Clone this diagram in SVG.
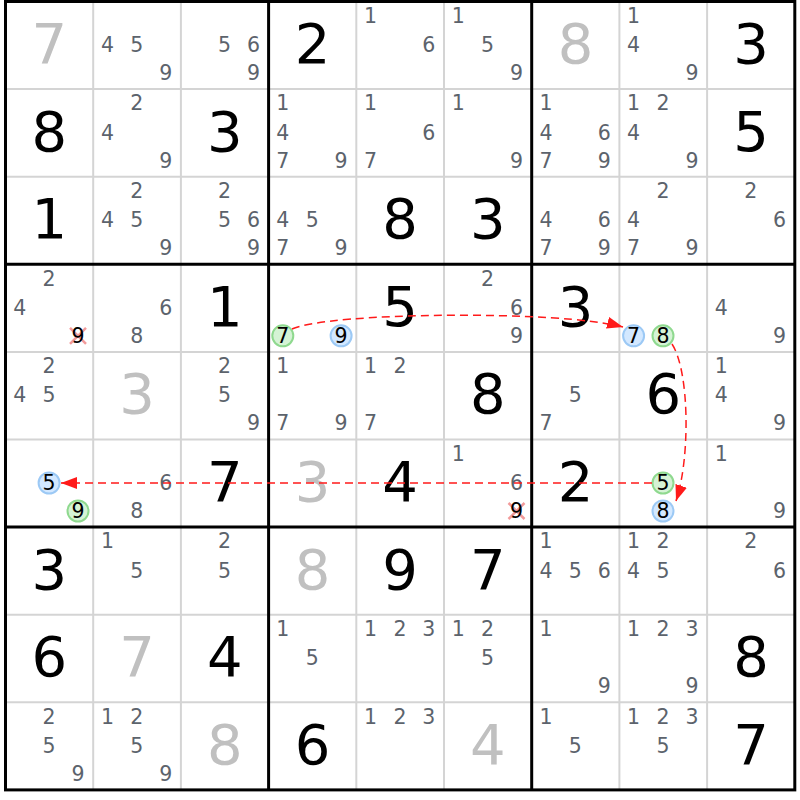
<svg xmlns="http://www.w3.org/2000/svg" width="800" height="800" viewBox="0 0 800 800">
<style>
text{font-family:"DejaVu Sans","Liberation Sans",sans-serif;text-anchor:middle}
.b{font-size:56px;fill:#000}
.g{font-size:56px;fill:#c0c0c0}
.c{font-size:20.5px;fill:#5c636c}
.k{font-size:20.5px;fill:#000}
.thin{stroke:#d4d4d4;stroke-width:2}
.thick{stroke:#000;stroke-width:3}
.cb{fill:#d3e8ff;stroke:#9cc9f5;stroke-width:2}
.cg{fill:#d5f3d5;stroke:#8fd98f;stroke-width:2}
.x{stroke:#f29a9a;stroke-width:2.5}
.arr{fill:none;stroke:#ff1a1a;stroke-width:1.5;stroke-dasharray:8 5}
</style>
<defs>
<marker id="ah" viewBox="0 0 16 12" refX="16" refY="6" markerWidth="16" markerHeight="12" markerUnits="userSpaceOnUse" orient="auto">
<path d="M0,0 L16,6 L0,12 z" fill="#ff1a1a"/>
</marker>
</defs>
<rect x="0" y="0" width="800" height="800" fill="#fff"/>
<g id="grid">
<line class="thin" x1="93.2" y1="1.5" x2="93.2" y2="789.9"/>
<line class="thin" x1="180.9" y1="1.5" x2="180.9" y2="789.9"/>
<line class="thin" x1="356.3" y1="1.5" x2="356.3" y2="789.9"/>
<line class="thin" x1="444" y1="1.5" x2="444" y2="789.9"/>
<line class="thin" x1="619.4" y1="1.5" x2="619.4" y2="789.9"/>
<line class="thin" x1="707.1" y1="1.5" x2="707.1" y2="789.9"/>
<line class="thin" x1="5.5" y1="89.1" x2="794.8" y2="89.1"/>
<line class="thin" x1="5.5" y1="176.7" x2="794.8" y2="176.7"/>
<line class="thin" x1="5.5" y1="351.9" x2="794.8" y2="351.9"/>
<line class="thin" x1="5.5" y1="439.5" x2="794.8" y2="439.5"/>
<line class="thin" x1="5.5" y1="614.7" x2="794.8" y2="614.7"/>
<line class="thin" x1="5.5" y1="702.3" x2="794.8" y2="702.3"/>
<line class="thick" x1="268.6" y1="1.5" x2="268.6" y2="789.9"/>
<line class="thick" x1="531.7" y1="1.5" x2="531.7" y2="789.9"/>
<line class="thick" x1="5.5" y1="264.3" x2="794.8" y2="264.3"/>
<line class="thick" x1="5.5" y1="527.1" x2="794.8" y2="527.1"/>
<rect class="thick" x="5.5" y="1.5" width="789.3" height="788.4" fill="none"/>
</g>
<g id="r0c0"><text class="g" x="49.35" y="63">7</text></g>
<g id="r0c1"><text class="c" x="107.4" y="52">4</text><text class="c" x="136.8" y="52">5</text><text class="c" x="165.7" y="80">9</text></g>
<g id="r0c2"><text class="c" x="224.5" y="52">5</text><text class="c" x="253.4" y="52">6</text><text class="c" x="253.4" y="80">9</text></g>
<g id="r0c3"><text class="b" x="312.45" y="63">2</text></g>
<g id="r0c4"><text class="c" x="370.5" y="22.8">1</text><text class="c" x="428.8" y="52">6</text></g>
<g id="r0c5"><text class="c" x="458.2" y="22.8">1</text><text class="c" x="487.6" y="52">5</text><text class="c" x="516.5" y="80">9</text></g>
<g id="r0c6"><text class="g" x="575.55" y="63">8</text></g>
<g id="r0c7"><text class="c" x="633.6" y="22.8">1</text><text class="c" x="633.6" y="52">4</text><text class="c" x="691.9" y="80">9</text></g>
<g id="r0c8"><text class="b" x="750.95" y="63">3</text></g>
<g id="r1c0"><text class="b" x="49.35" y="150.6">8</text></g>
<g id="r1c1"><text class="c" x="136.8" y="110.4">2</text><text class="c" x="107.4" y="139.6">4</text><text class="c" x="165.7" y="167.6">9</text></g>
<g id="r1c2"><text class="b" x="224.75" y="150.6">3</text></g>
<g id="r1c3"><text class="c" x="282.8" y="110.4">1</text><text class="c" x="282.8" y="139.6">4</text><text class="c" x="282.8" y="167.6">7</text><text class="c" x="341.1" y="167.6">9</text></g>
<g id="r1c4"><text class="c" x="370.5" y="110.4">1</text><text class="c" x="428.8" y="139.6">6</text><text class="c" x="370.5" y="167.6">7</text></g>
<g id="r1c5"><text class="c" x="458.2" y="110.4">1</text><text class="c" x="516.5" y="167.6">9</text></g>
<g id="r1c6"><text class="c" x="545.9" y="110.4">1</text><text class="c" x="545.9" y="139.6">4</text><text class="c" x="604.2" y="139.6">6</text><text class="c" x="545.9" y="167.6">7</text><text class="c" x="604.2" y="167.6">9</text></g>
<g id="r1c7"><text class="c" x="633.6" y="110.4">1</text><text class="c" x="663" y="110.4">2</text><text class="c" x="633.6" y="139.6">4</text><text class="c" x="691.9" y="167.6">9</text></g>
<g id="r1c8"><text class="b" x="750.95" y="150.6">5</text></g>
<g id="r2c0"><text class="b" x="49.35" y="238.2">1</text></g>
<g id="r2c1"><text class="c" x="136.8" y="198">2</text><text class="c" x="107.4" y="227.2">4</text><text class="c" x="136.8" y="227.2">5</text><text class="c" x="165.7" y="255.2">9</text></g>
<g id="r2c2"><text class="c" x="224.5" y="198">2</text><text class="c" x="224.5" y="227.2">5</text><text class="c" x="253.4" y="227.2">6</text><text class="c" x="253.4" y="255.2">9</text></g>
<g id="r2c3"><text class="c" x="282.8" y="227.2">4</text><text class="c" x="312.2" y="227.2">5</text><text class="c" x="282.8" y="255.2">7</text><text class="c" x="341.1" y="255.2">9</text></g>
<g id="r2c4"><text class="b" x="400.15" y="238.2">8</text></g>
<g id="r2c5"><text class="b" x="487.85" y="238.2">3</text></g>
<g id="r2c6"><text class="c" x="545.9" y="227.2">4</text><text class="c" x="604.2" y="227.2">6</text><text class="c" x="545.9" y="255.2">7</text><text class="c" x="604.2" y="255.2">9</text></g>
<g id="r2c7"><text class="c" x="663" y="198">2</text><text class="c" x="633.6" y="227.2">4</text><text class="c" x="633.6" y="255.2">7</text><text class="c" x="691.9" y="255.2">9</text></g>
<g id="r2c8"><text class="c" x="750.7" y="198">2</text><text class="c" x="779.6" y="227.2">6</text></g>
<g id="r3c0"><text class="c" x="49.1" y="285.6">2</text><text class="c" x="19.7" y="314.8">4</text><line class="x" x1="70" y1="327.8" x2="86" y2="343.8"/><line class="x" x1="86" y1="327.8" x2="70" y2="343.8"/><text class="k" x="78" y="343">9</text></g>
<g id="r3c1"><text class="c" x="165.7" y="314.8">6</text><text class="c" x="136.8" y="342.8">8</text></g>
<g id="r3c2"><text class="b" x="224.75" y="325.8">1</text></g>
<g id="r3c3"><circle class="cg" cx="282.8" cy="335.8" r="10.5"/><text class="k" x="282.8" y="343">7</text><circle class="cb" cx="341.1" cy="335.8" r="10.5"/><text class="k" x="341.1" y="343">9</text></g>
<g id="r3c4"><text class="b" x="400.15" y="325.8">5</text></g>
<g id="r3c5"><text class="c" x="487.6" y="285.6">2</text><text class="c" x="516.5" y="314.8">6</text><text class="c" x="516.5" y="342.8">9</text></g>
<g id="r3c6"><text class="b" x="575.55" y="325.8">3</text></g>
<g id="r3c7"><circle class="cb" cx="633.6" cy="335.8" r="10.5"/><text class="k" x="633.6" y="343">7</text><circle class="cg" cx="663" cy="335.8" r="10.5"/><text class="k" x="663" y="343">8</text></g>
<g id="r3c8"><text class="c" x="721.3" y="314.8">4</text><text class="c" x="779.6" y="342.8">9</text></g>
<g id="r4c0"><text class="c" x="49.1" y="373.2">2</text><text class="c" x="19.7" y="402.4">4</text><text class="c" x="49.1" y="402.4">5</text></g>
<g id="r4c1"><text class="g" x="137.05" y="413.4">3</text></g>
<g id="r4c2"><text class="c" x="224.5" y="373.2">2</text><text class="c" x="224.5" y="402.4">5</text><text class="c" x="253.4" y="430.4">9</text></g>
<g id="r4c3"><text class="c" x="282.8" y="373.2">1</text><text class="c" x="282.8" y="430.4">7</text><text class="c" x="341.1" y="430.4">9</text></g>
<g id="r4c4"><text class="c" x="370.5" y="373.2">1</text><text class="c" x="399.9" y="373.2">2</text><text class="c" x="370.5" y="430.4">7</text></g>
<g id="r4c5"><text class="b" x="487.85" y="413.4">8</text></g>
<g id="r4c6"><text class="c" x="575.3" y="402.4">5</text><text class="c" x="545.9" y="430.4">7</text></g>
<g id="r4c7"><text class="b" x="663.25" y="413.4">6</text></g>
<g id="r4c8"><text class="c" x="721.3" y="373.2">1</text><text class="c" x="721.3" y="402.4">4</text><text class="c" x="779.6" y="430.4">9</text></g>
<g id="r5c0"><circle class="cb" cx="49.1" cy="483" r="10.5"/><text class="k" x="49.1" y="490.2">5</text><circle class="cg" cx="78" cy="511" r="10.5"/><text class="k" x="78" y="518.2">9</text></g>
<g id="r5c1"><text class="c" x="165.7" y="490">6</text><text class="c" x="136.8" y="518">8</text></g>
<g id="r5c2"><text class="b" x="224.75" y="501">7</text></g>
<g id="r5c3"><text class="g" x="312.45" y="501">3</text></g>
<g id="r5c4"><text class="b" x="400.15" y="501">4</text></g>
<g id="r5c5"><text class="c" x="458.2" y="460.8">1</text><text class="c" x="516.5" y="490">6</text><line class="x" x1="508.5" y1="503" x2="524.5" y2="519"/><line class="x" x1="524.5" y1="503" x2="508.5" y2="519"/><text class="k" x="516.5" y="518.2">9</text></g>
<g id="r5c6"><text class="b" x="575.55" y="501">2</text></g>
<g id="r5c7"><circle class="cg" cx="663" cy="483" r="10.5"/><text class="k" x="663" y="490.2">5</text><circle class="cb" cx="663" cy="511" r="10.5"/><text class="k" x="663" y="518.2">8</text></g>
<g id="r5c8"><text class="c" x="721.3" y="460.8">1</text><text class="c" x="779.6" y="518">9</text></g>
<g id="r6c0"><text class="b" x="49.35" y="588.6">3</text></g>
<g id="r6c1"><text class="c" x="107.4" y="548.4">1</text><text class="c" x="136.8" y="577.6">5</text></g>
<g id="r6c2"><text class="c" x="224.5" y="548.4">2</text><text class="c" x="224.5" y="577.6">5</text></g>
<g id="r6c3"><text class="g" x="312.45" y="588.6">8</text></g>
<g id="r6c4"><text class="b" x="400.15" y="588.6">9</text></g>
<g id="r6c5"><text class="b" x="487.85" y="588.6">7</text></g>
<g id="r6c6"><text class="c" x="545.9" y="548.4">1</text><text class="c" x="545.9" y="577.6">4</text><text class="c" x="575.3" y="577.6">5</text><text class="c" x="604.2" y="577.6">6</text></g>
<g id="r6c7"><text class="c" x="633.6" y="548.4">1</text><text class="c" x="663" y="548.4">2</text><text class="c" x="633.6" y="577.6">4</text><text class="c" x="663" y="577.6">5</text></g>
<g id="r6c8"><text class="c" x="750.7" y="548.4">2</text><text class="c" x="779.6" y="577.6">6</text></g>
<g id="r7c0"><text class="b" x="49.35" y="676.2">6</text></g>
<g id="r7c1"><text class="g" x="137.05" y="676.2">7</text></g>
<g id="r7c2"><text class="b" x="224.75" y="676.2">4</text></g>
<g id="r7c3"><text class="c" x="282.8" y="636">1</text><text class="c" x="312.2" y="665.2">5</text></g>
<g id="r7c4"><text class="c" x="370.5" y="636">1</text><text class="c" x="399.9" y="636">2</text><text class="c" x="428.8" y="636">3</text></g>
<g id="r7c5"><text class="c" x="458.2" y="636">1</text><text class="c" x="487.6" y="636">2</text><text class="c" x="487.6" y="665.2">5</text></g>
<g id="r7c6"><text class="c" x="545.9" y="636">1</text><text class="c" x="604.2" y="693.2">9</text></g>
<g id="r7c7"><text class="c" x="633.6" y="636">1</text><text class="c" x="663" y="636">2</text><text class="c" x="691.9" y="636">3</text><text class="c" x="691.9" y="693.2">9</text></g>
<g id="r7c8"><text class="b" x="750.95" y="676.2">8</text></g>
<g id="r8c0"><text class="c" x="49.1" y="723.6">2</text><text class="c" x="49.1" y="752.8">5</text><text class="c" x="78" y="780.8">9</text></g>
<g id="r8c1"><text class="c" x="107.4" y="723.6">1</text><text class="c" x="136.8" y="723.6">2</text><text class="c" x="136.8" y="752.8">5</text><text class="c" x="165.7" y="780.8">9</text></g>
<g id="r8c2"><text class="g" x="224.75" y="763.8">8</text></g>
<g id="r8c3"><text class="b" x="312.45" y="763.8">6</text></g>
<g id="r8c4"><text class="c" x="370.5" y="723.6">1</text><text class="c" x="399.9" y="723.6">2</text><text class="c" x="428.8" y="723.6">3</text></g>
<g id="r8c5"><text class="g" x="487.85" y="763.8">4</text></g>
<g id="r8c6"><text class="c" x="545.9" y="723.6">1</text><text class="c" x="575.3" y="752.8">5</text></g>
<g id="r8c7"><text class="c" x="633.6" y="723.6">1</text><text class="c" x="663" y="723.6">2</text><text class="c" x="691.9" y="723.6">3</text><text class="c" x="663" y="752.8">5</text></g>
<g id="r8c8"><text class="b" x="750.95" y="763.8">7</text></g>
<g id="connectors">
<path class="arr" d="M292,329 C330,312 560,310 623,327" marker-end="url(#ah)"/>
<path class="arr" d="M672,344 C690,372 690,460 676,501" marker-end="url(#ah)"/>
<path class="arr" d="M652,483 L61,483" marker-end="url(#ah)"/>
</g>
</svg>
